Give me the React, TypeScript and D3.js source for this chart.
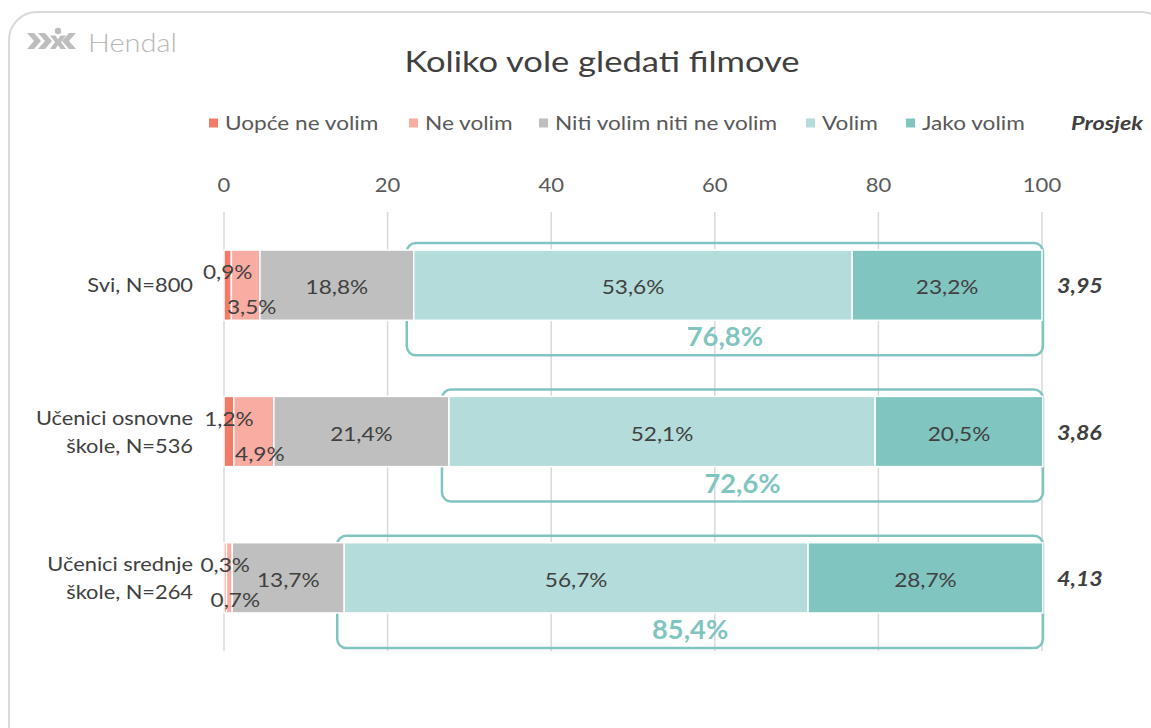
import React from "react";
import * as d3 from "d3";

const categories = [["Svi, N=800"], ["Učenici osnovne", "škole, N=536"], ["Učenici srednje", "škole, N=264"]];
const seriesNames = ["Uopće ne volim", "Ne volim", "Niti volim niti ne volim", "Volim", "Jako volim"];
const uopce = [0.9, 1.2, 0.3];
const neVolim = [3.5, 4.9, 0.7];
const niti = [18.8, 21.4, 13.7];
const volim = [53.6, 52.1, 56.7];
const jako = [23.2, 20.5, 28.7];
const positive = [76.8, 72.6, 85.4];
const averages = ["3,95", "3,86", "4,13"];
const ticks = [0, 20, 40, 60, 80, 100];
const colors = ["#f47b68", "#f9aca2", "#bfbfbf", "#b3dcda", "#81c5c1"];

const W = 1151;
const H = 728;
const FONT = "Lato, 'Open Sans', sans-serif";
const SX = 1.16;

const fmt = (v: number) => v.toFixed(1).replace(".", ",") + "%";

type TProps = {
  x: number;
  y: number;
  sx?: number;
  anchor?: "start" | "middle" | "end";
  size: number;
  fill: string;
  weight?: number;
  italic?: boolean;
  children: React.ReactNode;
};

function T({ x, y, sx = SX, anchor = "start", size, fill, weight = 400, italic = false, children }: TProps) {
  return (
    <text
      transform={`translate(${x},${y}) scale(${sx},1)`}
      textAnchor={anchor}
      fontSize={size}
      fill={fill}
      fontWeight={weight}
      fontStyle={italic ? "italic" : "normal"}
    >
      {children}
    </text>
  );
}

export default function App() {
  const x = d3.scaleLinear().domain([0, 100]).range([224, 1042]);
  const y = d3
    .scaleBand<number>()
    .domain([0, 1, 2])
    .range([212, 651])
    .paddingInner(0.52)
    .paddingOuter(0.26);
  const series = [uopce, neVolim, niti, volim, jako];
  const stack = d3
    .stack<number, number>()
    .keys([0, 1, 2, 3, 4])
    .value((i, k) => series[k][i]);
  const stacked = stack([0, 1, 2]);
  const bw = y.bandwidth();

  const legendX = [209, 409, 539, 806, 906];

  return (
    <svg width={W} height={H} style={{ position: "absolute", left: 0, top: 0, fontFamily: FONT }}>
      <rect x={0} y={0} width={W} height={H} fill="#fff" />
      <rect x={9} y={12} width={1160} height={740} rx={28} fill="#fff" stroke="#d9d9d9" strokeWidth={2} />
      {/* logo */}
      <g fill="#bdbdbd">
        <path d="M27,33 L34,33 L41,41 L34,49 L27,49 L34,41 Z" />
        <path d="M38,33 L45,33 L52,41 L45,49 L38,49 L45,41 Z" />
        <circle cx={58} cy={31} r={3.2} />
        <path d="M50,35.5 L55.5,35.5 L58,39.5 L60.5,35.5 L66,35.5 L61,42 L66,49 L60.5,49 L58,45 L55.5,49 L50,49 L55,42 Z" />
        <path d="M76,33 L69,33 L62,41 L69,49 L76,49 L69,41 Z" />
      </g>
      <T x={88} y={52} size={25} weight={300} fill="#b8b8b8">Hendal</T>
      <T x={602} y={72} sx={1.19} anchor="middle" size={29} fill="#404040">Koliko vole gledati filmove</T>
      {/* legend */}
      {seriesNames.map((n, i) => (
        <g key={n}>
          <rect x={legendX[i]} y={118.5} width={9} height={9} fill={colors[i]} />
          <T x={legendX[i] + 16} y={130} size={19.5} fill="#595959">{n}</T>
        </g>
      ))}
      <T x={1143} y={130} sx={1.2} anchor="end" size={19.5} weight={700} italic fill="#404040">Prosjek</T>
      {/* axis ticks */}
      {ticks.map((t) => (
        <g key={t}>
          <T x={x(t)} y={192} anchor="middle" size={19} fill="#595959">{t}</T>
          <line x1={x(t)} x2={x(t)} y1={212} y2={651} stroke="#d9d9d9" strokeWidth={1.5} />
        </g>
      ))}
      {/* boxes */}
      {[0, 1, 2].map((i) => {
        const start = stacked[2][i][1];
        const bx = x(start) - 7;
        const by = (y(i) as number) - 7;
        return (
          <rect key={"box" + i} x={bx} y={by} width={x(100) + 1 - bx} height={bw + 7 + 35} rx={9}
            fill="none" stroke="#81c5c1" strokeWidth={2.5} />
        );
      })}
      {/* bars */}
      {stacked.map((s, k) =>
        s.map((d, i) => (
          <rect key={k + "-" + i} x={x(d[0])} y={y(i)} width={Math.max(0, x(d[1]) - x(d[0]))} height={bw}
            fill={colors[k]} stroke="#fff" strokeWidth={1.5} />
        ))
      )}
      {/* segment labels */}
      {stacked.map((s, k) =>
        s.map((d, i) => {
          const cx = (x(d[0]) + x(d[1])) / 2;
          const cy = (y(i) as number) + bw / 2;
          let lx = cx;
          let ly = cy + 9;
          if (k === 0) ly = cy - 6;
          if (k === 1) {
            lx = cx + 6;
            ly = cy + 29;
          }
          return (
            <T key={"l" + k + "-" + i} x={lx} y={ly} anchor="middle" size={19.5} fill="#404040">
              {fmt(series[k][i])}
            </T>
          );
        })
      )}
      {/* positive totals */}
      {[0, 1, 2].map((i) => {
        const start = stacked[2][i][1];
        const cx = (x(start) - 7 + x(100) + 1) / 2;
        const by = (y(i) as number) + bw;
        return (
          <T key={"p" + i} x={cx} y={by + 26} sx={1.05} anchor="middle" size={26} weight={700} fill="#81c5c1">
            {fmt(positive[i])}
          </T>
        );
      })}
      {/* averages */}
      {averages.map((a, i) => (
        <T key={"a" + i} x={1057} y={(y(i) as number) + bw / 2 + 8} size={20} weight={700} italic fill="#404040">
          {a}
        </T>
      ))}
      {/* category labels */}
      {categories.map((lines, i) => {
        const cy = (y(i) as number) + bw / 2;
        const n = lines.length;
        return (
          <g key={"c" + i}>
            {lines.map((l, j) => (
              <T key={j} x={193} y={cy + 7 + (j - (n - 1) / 2) * 28} sx={1.12} anchor="end" size={19.5} fill="#404040">
                {l}
              </T>
            ))}
          </g>
        );
      })}
    </svg>
  );
}
